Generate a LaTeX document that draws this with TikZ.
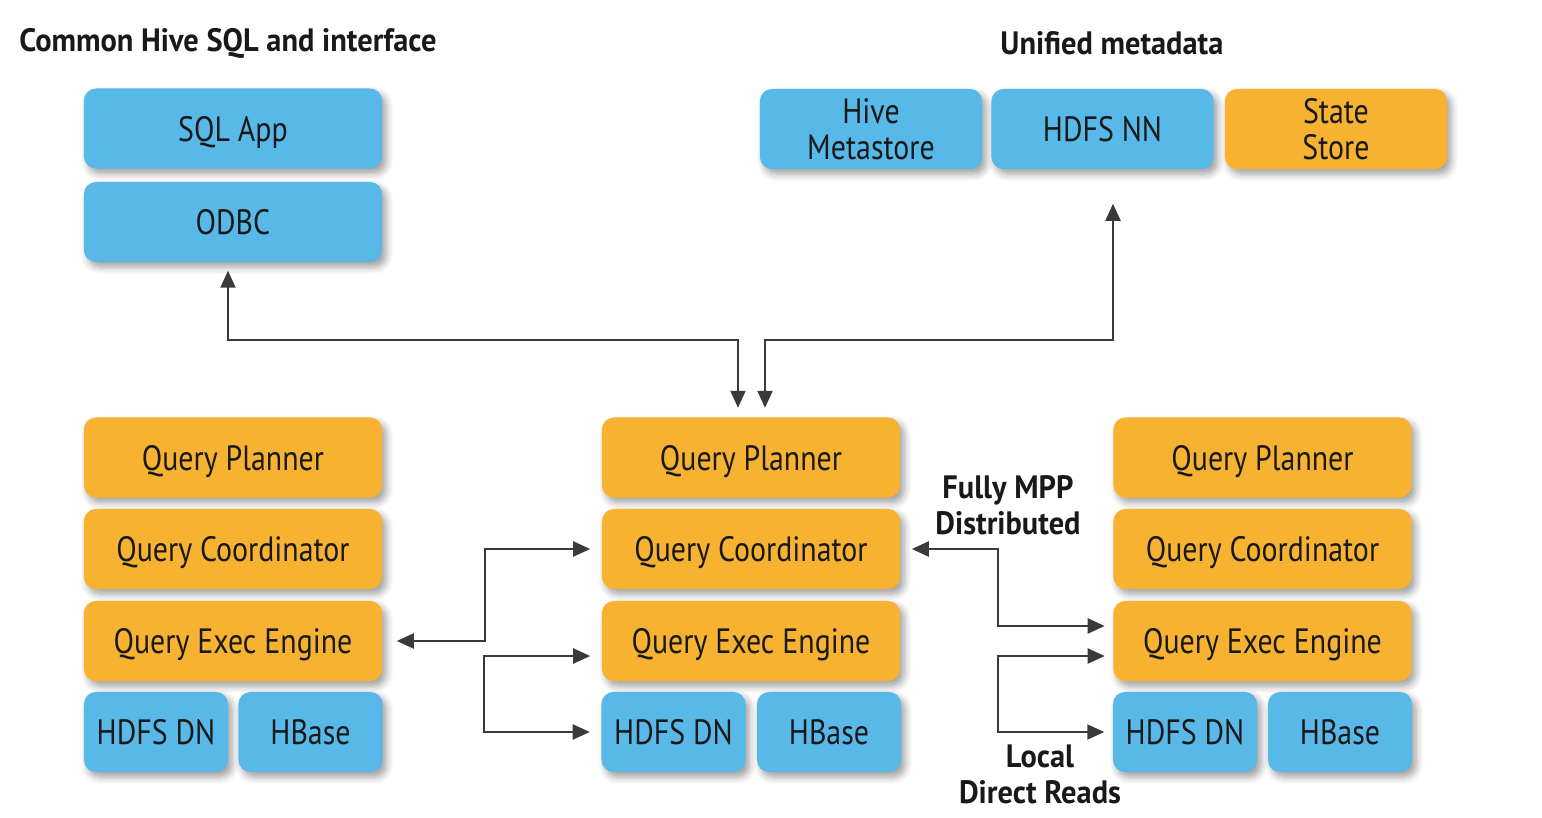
\documentclass[tikz,border=0pt]{standalone}
\usepackage{fontspec}
\setmainfont{PT Sans}[FakeStretch=0.85]
\newfontfamily\headfont{PT Sans}[FakeStretch=0.94]
\usetikzlibrary{arrows.meta,shadows.blur,positioning}

\definecolor{hblue}{RGB}{88,184,232}
\definecolor{horange}{RGB}{248,178,50}
\definecolor{linegray}{RGB}{58,58,58}

\tikzset{
  box/.style={rounded corners=0.12cm, minimum height=0.8cm, inner sep=0pt,
    align=center, text=black!90, font=\fontsize{10}{10.4}\selectfont, text depth=0pt,
    blur shadow={shadow xshift=0.04cm, shadow yshift=-0.05cm, shadow blur steps=6, shadow opacity=38}},
  bluebox/.style={box, fill=hblue},
  orangebox/.style={box, fill=horange},
  wide/.style={minimum width=2.98cm},
  half/.style={minimum width=1.44cm},
  meta/.style={minimum width=2.22cm},
  link/.style={draw=linegray, line width=0.022cm,
    {Triangle[length=0.17cm,width=0.15cm]}-{Triangle[length=0.17cm,width=0.15cm]}},
  heading/.style={font=\headfont\bfseries\fontsize{9.2}{10.2}\selectfont, text=black!90, align=center}
}

\begin{document}
\begin{tikzpicture}[x=0.01cm, y=-0.01cm]
  \useasboundingbox (0,0) rectangle (1542,818);

  % Headings
  \node[heading, anchor=west] (hsql) at (7,43) {Common Hive SQL and interface};
  \node[heading, anchor=west] (hmeta) at (988,43) {Unified metadata};

  % Client side
  \node[bluebox, wide] (lapp) at (233,128.5) {SQL App};
  \node[bluebox, wide] (lodbc) at (233,222) {ODBC};

  % Metadata services
  \node[bluebox, meta] (hms) at (871,129) {Hive\\Metastore};
  \node[bluebox, meta] (hnn) at (1102.5,129) {HDFS NN};
  \node[orangebox, meta] (sstore) at (1336,129) {State\\Store};

  % Left daemon
  \node[orangebox, wide] (lqp) at (233,457.5) {Query Planner};
  \node[orangebox, wide] (lqc) at (233,549) {Query Coordinator};
  \node[orangebox, wide] (lqe) at (233,641) {Query Exec Engine};
  \node[bluebox, half] (ldn) at (156,732) {HDFS DN};
  \node[bluebox, half] (lhb) at (310.5,732) {HBase};

  % Middle daemon
  \node[orangebox, wide] (mqp) at (751,457.5) {Query Planner};
  \node[orangebox, wide] (mqc) at (751,549) {Query Coordinator};
  \node[orangebox, wide] (mqe) at (751,641) {Query Exec Engine};
  \node[bluebox, half] (mdn) at (673.5,732) {HDFS DN};
  \node[bluebox, half] (mhb) at (829,732) {HBase};

  % Right daemon
  \node[orangebox, wide] (rqp) at (1262.5,457.5) {Query Planner};
  \node[orangebox, wide] (rqc) at (1262.5,549) {Query Coordinator};
  \node[orangebox, wide] (rqe) at (1262.5,641) {Query Exec Engine};
  \node[bluebox, half] (rdn) at (1185,732) {HDFS DN};
  \node[bluebox, half] (rhb) at (1340,732) {HBase};

  % Labels
  \node[heading] (mpp) at (1008,505) {Fully MPP\\Distributed};
  \node[heading] (local) at (1040,774) {Local\\Direct Reads};

  % Connectors
  \draw[link, shorten <=0.08cm, shorten >=0.09cm] ([xshift=-0.05cm]lodbc.south) -- ++(0,77) -| ([xshift=-0.13cm]mqp.north);
  \draw[link, shorten <=0.34cm, shorten >=0.09cm] ([xshift=0.105cm]hnn.south) -- ++(0,170) -| ([xshift=0.14cm]mqp.north);
  \draw[link, shorten <=0.14cm, shorten >=0.11cm] (lqe.east) -- ++(102,0) |- (mqc.west);
  \draw[link, shorten <=0.11cm, shorten >=0.11cm] ([yshift=-0.15cm]mqe.west) -- ++(-117,0) |- (mdn.west);
  \draw[link, shorten <=0.11cm, shorten >=0.08cm] (mqc.east) -- ++(97,0) |- ([yshift=0.15cm]rqe.west);
  \draw[link, shorten <=0.08cm, shorten >=0.08cm] ([yshift=-0.15cm]rqe.west) -- ++(-115,0) |- (rdn.west);
\end{tikzpicture}
\end{document}
